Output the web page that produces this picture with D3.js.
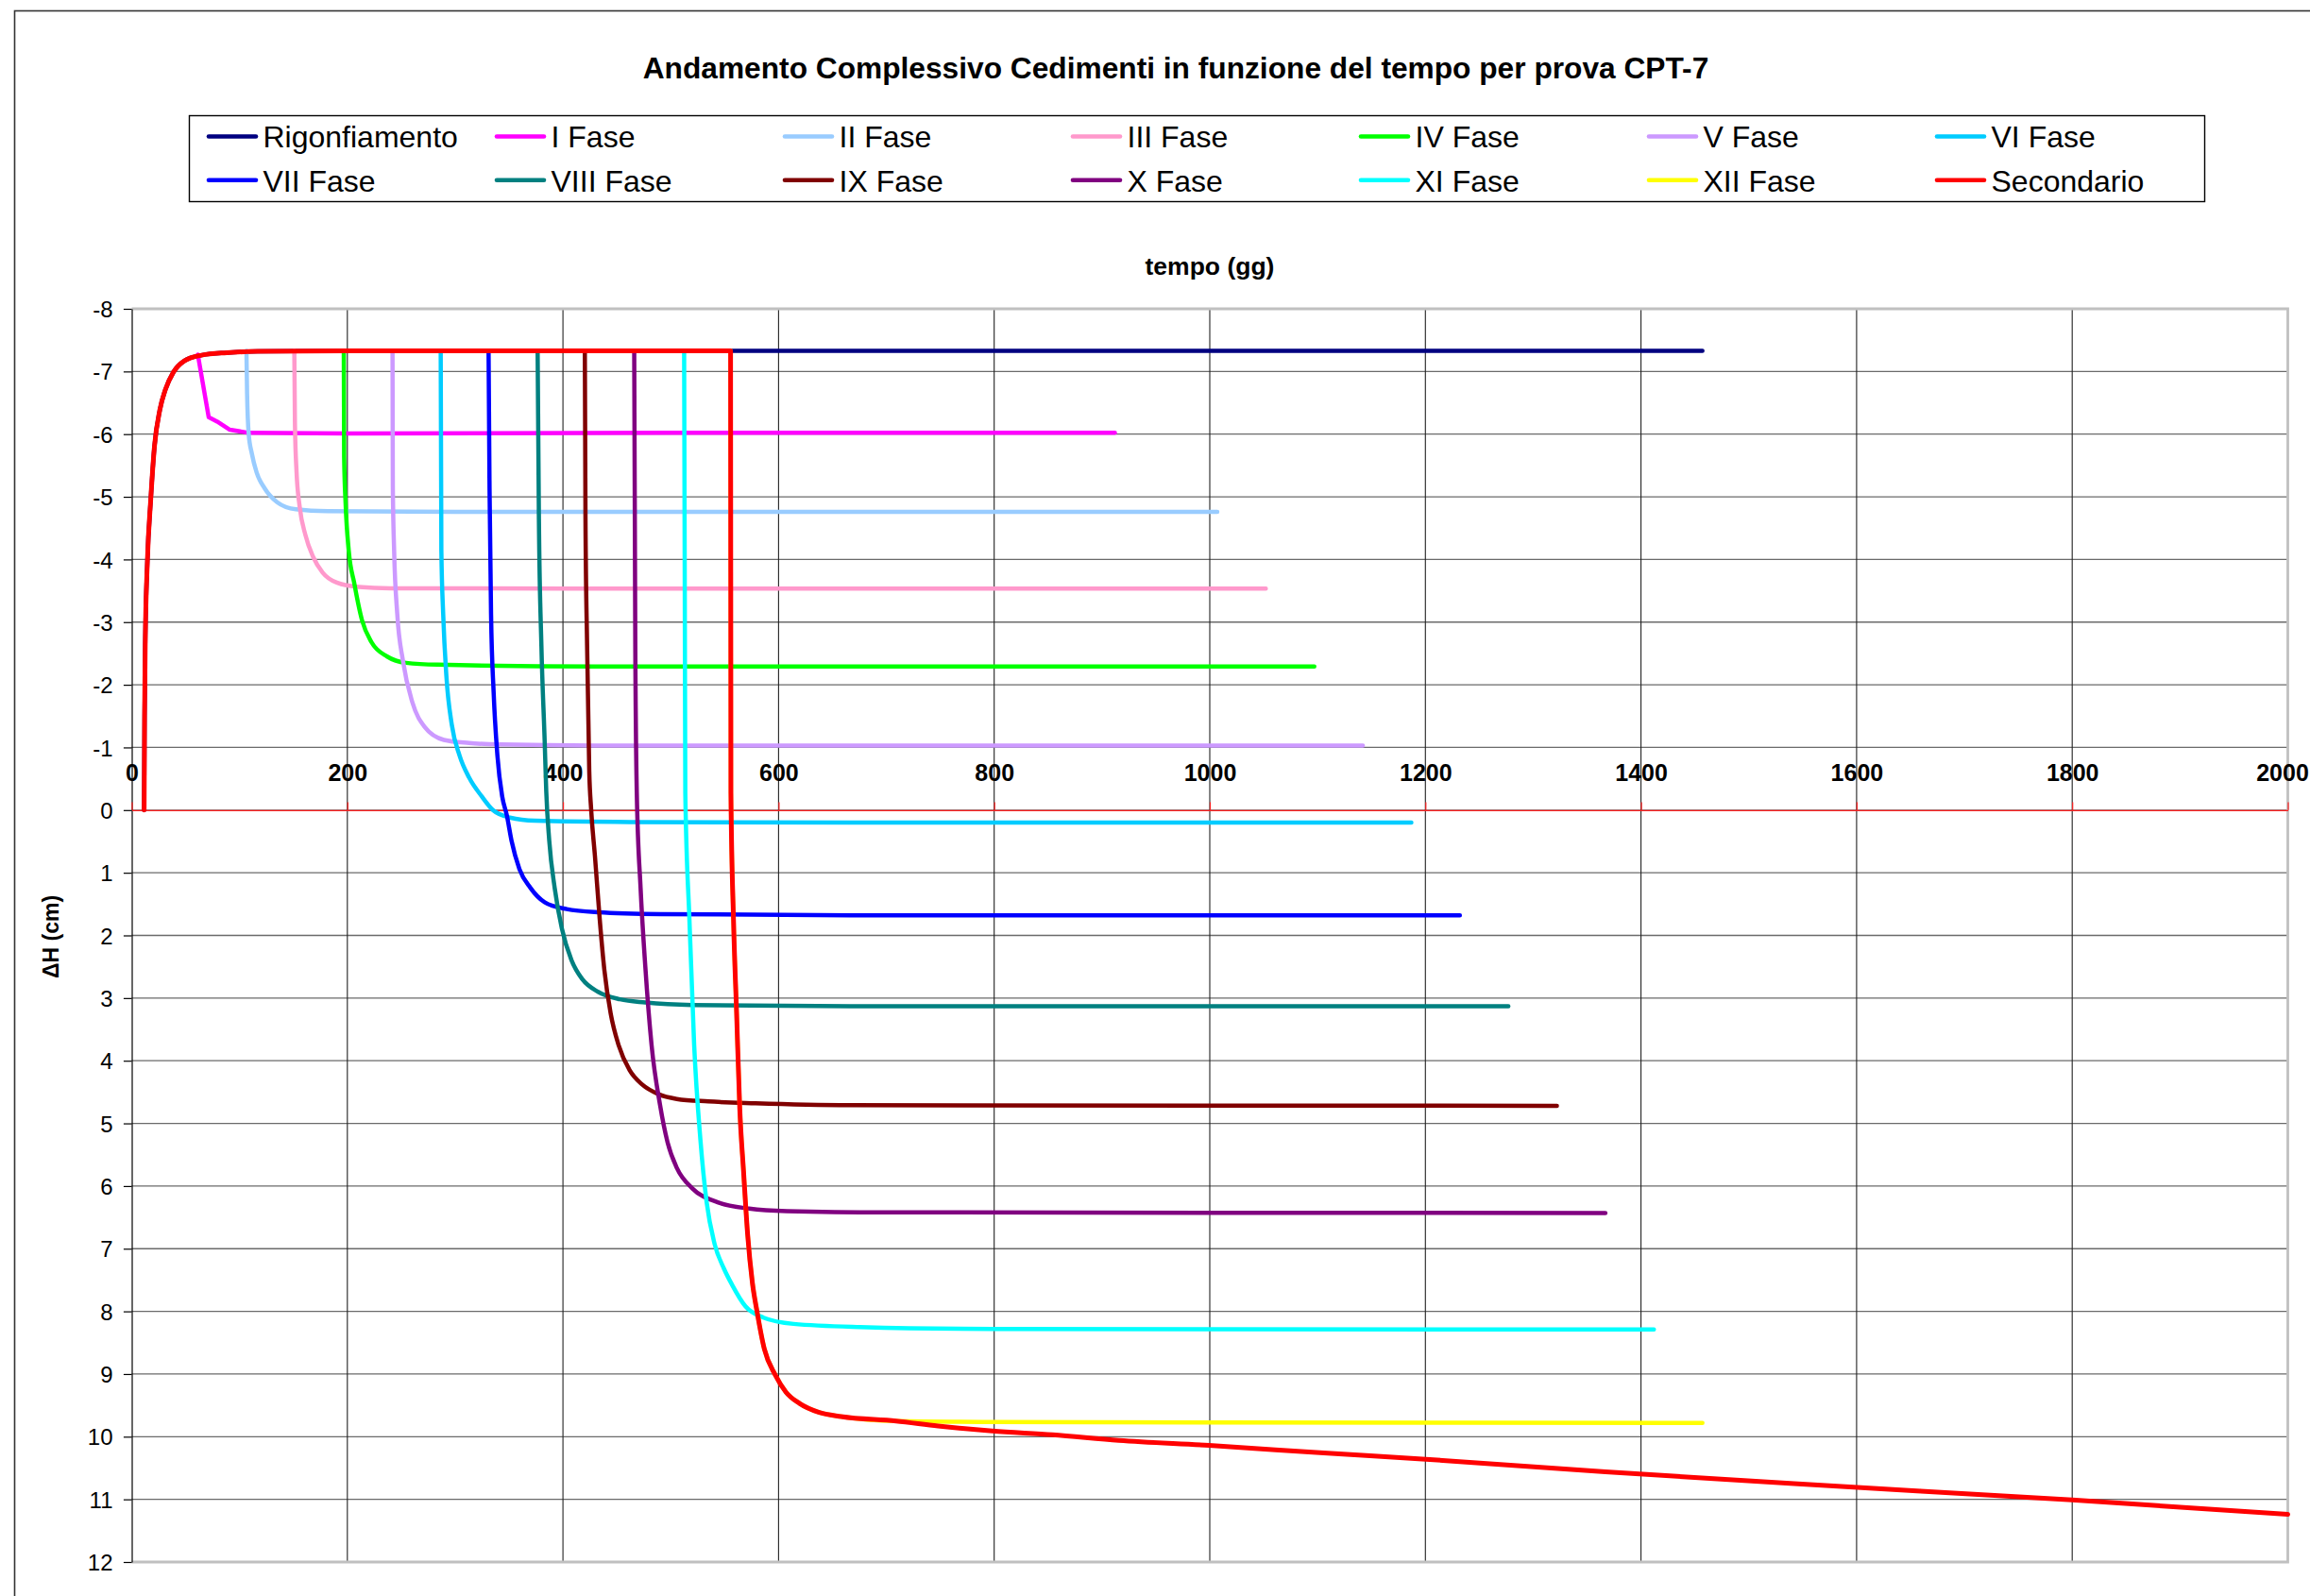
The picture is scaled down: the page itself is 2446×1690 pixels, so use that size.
<!DOCTYPE html>
<html><head><meta charset="utf-8">
<script src="https://cdn.jsdelivr.net/npm/d3@7"></script>
<style>
body{margin:0;background:#fff}
svg{display:block}
text{font-family:"Liberation Sans",Arial,Helvetica,sans-serif}
</style>
</head><body>
<svg id="chart" width="2446" height="1690"></svg>
<script>
// ---------- DATA ----------
const tempoTicks = [0,200,400,600,800,1000,1200,1400,1600,1800,2000];
const dhTicks = [-8,-7,-6,-5,-4,-3,-2,-1,0,1,2,3,4,5,6,7,8,9,10,11,12];

const seriesNames = ["Rigonfiamento","I Fase","II Fase","III Fase","IV Fase","V Fase","VI Fase",
                     "VII Fase","VIII Fase","IX Fase","X Fase","XI Fase","XII Fase","Secondario"];
const seriesColors = ["#000080","#FF00FF","#99CCFF","#FF99CC","#00FF00","#CC99FF","#00CCFF",
                      "#0000FF","#008080","#800000","#800080","#00FFFF","#FFFF00","#FF0000"];

// [tempo (gg), ΔH (cm)]
const rigonfiamento = [[11.5,0],[11.9,-1.5],[12.5,-2.64],[14.5,-3.97],[17.6,-4.95],[21.1,-5.81],[26.1,-6.39],
  [31.2,-6.71],[38.7,-6.99],[48.8,-7.17],[64.7,-7.26],[88,-7.30],[117,-7.32],[200,-7.33],[1457,-7.33]];
const fase1 = [[61.3,-7.27],[71.4,-6.27],[79.3,-6.20],[91,-6.07],[108.5,-6.02],[200,-6.01],[500,-6.02],[912,-6.02]];
const fase2 = [[106.4,-7.33],[107,-6.65],[108.5,-6.0],[111.4,-5.69],[115.8,-5.39],[123.1,-5.14],[134.8,-4.915],
  [152.3,-4.80],[181.5,-4.77],[300,-4.76],[1007,-4.76]];
const fase3 = [[150.8,-7.33],[151.4,-6.15],[152.9,-5.39],[155.8,-4.84],[161.1,-4.39],[168.3,-4.04],[177.1,-3.79],
  [190.2,-3.63],[210.7,-3.56],[239.9,-3.54],[400,-3.535],[1052,-3.535]];
const fase4 = [[196.7,-7.33],[197,-5.64],[198.4,-4.89],[201.3,-4.14],[206.3,-3.63],[213.6,-3.03],[222.4,-2.68],
  [237,-2.45],[254.5,-2.35],[283.7,-2.32],[430,-2.29],[1097,-2.29]];
const fase5 = [[241.9,-7.33],[242.2,-5.14],[243.4,-4.14],[246.3,-3.13],[251.6,-2.38],[260.3,-1.72],[272,-1.32],
  [289.5,-1.12],[312.9,-1.07],[342.1,-1.047],[430,-1.03],[1142,-1.03]];
const fase6 = [[286.6,-7.33],[287.2,-4.14],[288.9,-3.13],[291.9,-2.13],[296.8,-1.37],[304.1,-0.87],[312.9,-0.52],
  [324.6,-0.22],[335,0.0],[350.8,0.12],[374.2,0.17],[461.8,0.19],[666.2,0.2],[1187,0.2]];
const fase7 = [[331,-7.33],[331.9,-5.14],[333.3,-3.13],[335.7,-1.88],[339.2,-0.87],[343.6,-0.22],[347.9,0.08],
  [352.3,0.49],[359.6,0.94],[369.8,1.24],[383,1.47],[403.4,1.58],[432.6,1.63],[491,1.66],[666.2,1.68],[1232,1.68]];
const fase8 = [[376.5,-7.33],[377.7,-4.64],[380,-2.63],[383,-1.12],[384.5,-0.3],[387.3,0.49],[392.3,1.24],
  [399,1.89],[407.8,2.39],[418,2.70],[432.6,2.90],[453,3.02],[476.4,3.07],[520.2,3.11],[666.2,3.13],[1277,3.13]];
const fase9 = [[420.3,-7.33],[420.9,-4.64],[422.4,-2.63],[424.4,-0.62],[426.2,0.0],[429.7,0.74],[434.1,1.74],
  [438.4,2.55],[444.3,3.25],[451.6,3.75],[461.8,4.15],[473.5,4.38],[488.1,4.53],[505.6,4.61],[534.8,4.65],
  [578.6,4.68],[666.2,4.71],[1322,4.72]];
const fase10 = [[466.1,-7.33],[467.1,-2.64],[468.5,-0.27],[472,1.24],[476.4,2.50],[482.2,3.75],[490,4.7],
  [497,5.3],[505.6,5.71],[520.2,6.04],[543.6,6.26],[572.8,6.36],[607.8,6.40],[700,6.42],[1367,6.43]];
const fase11 = [[512.4,-7.33],[513,-3.5],[513.5,-0.27],[517.3,1.74],[521.7,3.75],[527.5,5.26],[533.3,6.26],
  [540.6,6.92],[549.4,7.32],[556.7,7.57],[569.3,7.92],[586,8.10],[613.9,8.20],[675.4,8.25],[798.3,8.28],[1412,8.29]];
const fase12 = [[555.5,-7.33],[555.8,-0.27],[558.2,1.74],[561.1,3.25],[564,4.76],[567.5,5.76],[571.3,6.77],
  [575.7,7.54],[580,8.0],[586.8,8.60],[596.8,9.01],[606.9,9.29],[619.5,9.47],[637.1,9.61],[658,9.68],
  [709,9.75],[800,9.765],[1000,9.775],[1457,9.78]];
const secondario = [[11.5,0],[11.9,-1.5],[12.5,-2.64],[14.5,-3.97],[17.6,-4.95],[21.1,-5.81],[26.1,-6.39],
  [31.2,-6.71],[38.7,-6.99],[48.8,-7.17],[64.7,-7.26],[88,-7.30],[117,-7.32],[200,-7.33],[555.5,-7.33],
  [555.8,-0.27],[558.2,1.74],[561.1,3.25],[564,4.76],[567.5,5.76],[571.3,6.77],[575.7,7.54],[580,8.0],
  [586.8,8.60],[596.8,9.01],[606.9,9.29],[619.5,9.47],[637.1,9.61],[658,9.68],[709,9.75],[748,9.83],
  [798.3,9.91],[854.2,9.97],[915.6,10.06],[999.5,10.14],[1105.7,10.26],[1200.6,10.36],[1367,10.56],
  [1542,10.75],[1800,11.01],[2000,11.24]];

const seriesData = [rigonfiamento,fase1,fase2,fase3,fase4,fase5,fase6,fase7,fase8,fase9,fase10,fase11,fase12,secondario];

// ---------- DRAWING ----------
const svg = d3.select("#chart");
const plot = {left:139.5, right:2422.5, top:327, bottom:1654};
const x = d3.scaleLinear().domain([0,2000]).range([plot.left, plot.right]);
const y = d3.scaleLinear().domain([-8,12]).range([plot.top, plot.bottom]);

// outer chart border
svg.append("rect").attr("x",15.5).attr("y",11.5).attr("width",2700).attr("height",1900)
  .attr("fill","#fff").attr("stroke","#333").attr("stroke-width",1.6);

// title
svg.append("text").attr("x",1245).attr("y",83).attr("text-anchor","middle")
  .attr("font-size",31.7).attr("font-weight","bold").text("Andamento Complessivo Cedimenti in funzione del tempo per prova CPT-7");

// legend
const leg = svg.append("g");
leg.append("rect").attr("x",200.5).attr("y",122.5).attr("width",2134).attr("height",91)
  .attr("fill","#fff").attr("stroke","#000").attr("stroke-width",1.4);
seriesNames.forEach((name,i)=>{
  const col = i%7, row = Math.floor(i/7);
  const lx = 221 + col*305, ly = 144.5 + row*46.3;
  leg.append("line").attr("x1",lx).attr("x2",lx+50).attr("y1",ly).attr("y2",ly)
    .attr("stroke",seriesColors[i]).attr("stroke-width",4.6).attr("stroke-linecap","round");
  leg.append("text").attr("x",278.5+col*305).attr("y",156+row*46.5)
    .attr("font-size",32).attr("fill","#000").text(name);
});

// axis titles
svg.append("text").attr("x",1281).attr("y",290.5).attr("text-anchor","middle")
  .attr("font-size",26.5).attr("font-weight","bold").text("tempo (gg)");
svg.append("text").attr("transform","translate(62,992) rotate(-90)").attr("text-anchor","middle")
  .attr("font-size",23).attr("font-weight","bold").text("ΔH (cm)");

// horizontal gridlines
svg.append("g").selectAll("line").data(dhTicks.filter(d=>d>-8 && d<12)).join("line")
  .attr("x1",plot.left).attr("x2",plot.right).attr("y1",d=>y(d)).attr("y2",d=>y(d))
  .attr("stroke","#6a6a6a").attr("stroke-width",1.3);
// vertical gridlines
svg.append("g").selectAll("line").data(tempoTicks.filter(d=>d>0 && d<2000)).join("line")
  .attr("x1",d=>x(d)).attr("x2",d=>x(d)).attr("y1",plot.top).attr("y2",plot.bottom)
  .attr("stroke","#222").attr("stroke-width",1.1);
// plot area border (top, right, bottom)
svg.append("path")
  .attr("d",`M${plot.left},${plot.top}H${plot.right}V${plot.bottom}H${plot.left}`)
  .attr("fill","none").attr("stroke","#c0c0c0").attr("stroke-width",2.8);

// y axis
const yAxis = svg.append("g").attr("transform",`translate(${plot.left},0)`)
  .call(d3.axisLeft(y).tickValues(dhTicks).tickSize(8.6).tickSizeOuter(0).tickPadding(11.4).tickFormat(d=>String(d)));
yAxis.attr("font-family",null).attr("font-size",null);
yAxis.select(".domain").attr("stroke","#000").attr("stroke-width",1.2);
yAxis.selectAll(".tick line").attr("stroke","#000").attr("stroke-width",1.2);
yAxis.selectAll(".tick text").attr("font-size",24).attr("fill","#000").attr("dy","0.36em");

// x axis (crossing at ΔH = 0, red)
const xAxis = svg.append("g").attr("transform",`translate(0,${y(0)})`)
  .call(d3.axisTop(x).tickValues(tempoTicks).tickSize(8.4).tickSizeOuter(0).tickPadding(22.4).tickFormat(d=>String(d)));
xAxis.attr("font-family",null).attr("font-size",null);
xAxis.select(".domain").attr("stroke","#ff2020").attr("stroke-width",1.2);
xAxis.selectAll(".tick line").attr("stroke","#ff2020").attr("stroke-width",1.2);
xAxis.selectAll(".tick text").attr("font-size",25).attr("font-weight","bold").attr("fill","#000")
  .attr("dx", d => d === 2000 ? -6 : 0);

// series
svg.append("defs").append("clipPath").attr("id","clip").append("rect")
  .attr("x",plot.left).attr("y",plot.top-6).attr("width",plot.right-plot.left+3).attr("height",plot.bottom-plot.top+12);
const line = d3.line().x(d=>x(d[0])).y(d=>y(d[1])).curve(d3.curveMonotoneX);
const straight = d3.line().x(d=>x(d[0])).y(d=>y(d[1]));
const gS = svg.append("g").attr("clip-path","url(#clip)");
seriesData.forEach((data,i)=>{
  gS.append("path").datum(data).attr("d", i===1 ? straight : line)
    .attr("fill","none").attr("stroke",seriesColors[i])
    .attr("stroke-width", i===13 ? 5 : 4.5)
    .attr("stroke-linecap","round").attr("stroke-linejoin","round");
});
</script>
</body></html>
